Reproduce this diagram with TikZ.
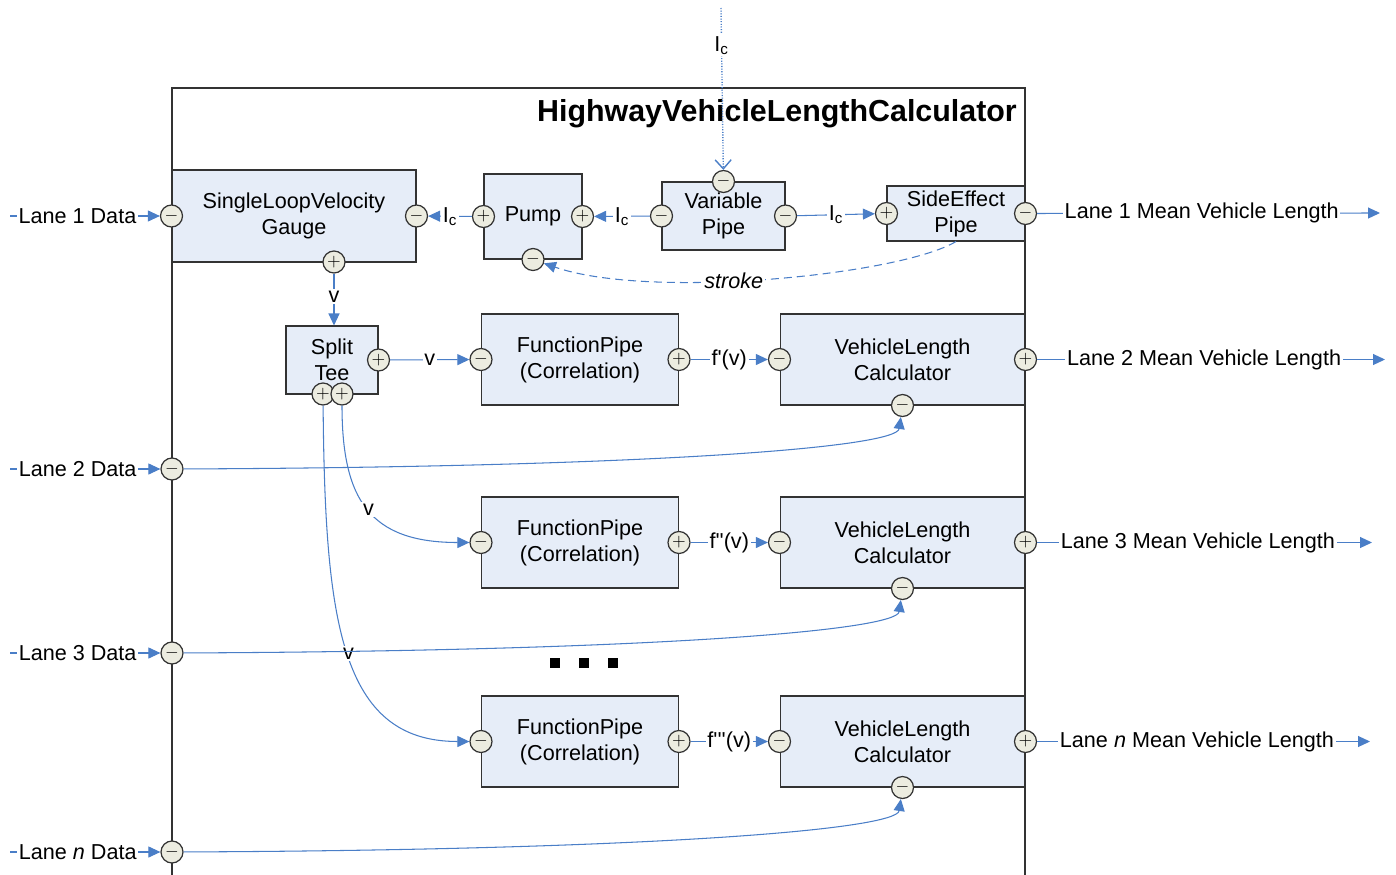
\documentclass[tikz,border=0pt]{standalone}
\usepackage{fontspec}
\setmainfont{Liberation Sans}
\usetikzlibrary{arrows.meta}
\definecolor{boxfill}{HTML}{E6EDF8}
\definecolor{portfill}{HTML}{ECECE0}
\definecolor{boxline}{HTML}{333333}
\definecolor{wireblue}{HTML}{4A7EC7}
\newcommand{\txtsize}{\fontsize{12.3}{14.8}\selectfont}

\begin{document}
\begin{tikzpicture}[x=0.02cm,y=-0.02cm,
  blk/.style={draw=boxline,fill=boxfill,line width=.6pt,inner sep=0pt,align=center,font=\txtsize},
  port/.style={circle,draw=boxline,fill=portfill,line width=.7pt,minimum size=.44cm,inner sep=0pt,font=\fontsize{10}{10}\selectfont},
  wire/.style={draw=wireblue,line width=.6pt,-{Triangle[length=2.4mm,width=2.2mm]}},
  lbl/.style={fill=white,inner sep=1pt,font=\txtsize,text=black}]
\useasboundingbox (0,0) rectangle (1396,875);
% outer block
\draw[boxline,line width=.6pt] (172,875) -- (172,88) -- (1025,88) -- (1025,875);
\node[font=\bfseries\fontsize{17.3}{20}\selectfont,anchor=east] (title) at (1023,114) {HighwayVehicleLengthCalculator};

% blocks
\node[blk,minimum width=4.88cm,minimum height=1.84cm] (gauge) at (294,216) {SingleLoopVelocity\\Gauge};
\node[blk,minimum width=1.96cm,minimum height=1.70cm] (pump) at (533,216.5) {Pump};
\node[blk,minimum width=2.46cm,minimum height=1.36cm] (varpipe) at (723.5,216) {Variable\\Pipe};
\node[blk,minimum width=2.76cm,minimum height=1.10cm] (sidepipe) at (956,213.5) {SideEffect\\Pipe};
\node[blk,minimum width=1.84cm,minimum height=1.36cm] (tee) at (332,360) {Split\\Tee};

% ports
\node[port] (gauge-l) at (gauge.west) {$-$};
\node[port] (gauge-r) at (gauge.east) {$-$};
\node[port] (gauge-b) at (334,262) {$+$};
\node[port] (pump-l) at (pump.west) {$+$};
\node[port] (pump-r) at (pump.east) {$+$};
\node[port] (pump-b) at (pump.south) {$-$};
\node[port] (varpipe-l) at (varpipe.west) {$-$};
\node[port] (varpipe-r) at (varpipe.east) {$-$};
\node[port] (varpipe-t) at (varpipe.north) {$-$};
\node[port] (sidepipe-l) at (sidepipe.west) {$+$};
\node[port] (sidepipe-r) at (sidepipe.east) {$-$};
\node[port] (tee-r) at (tee.east) {$+$};
\node[port] (tee-b1) at (323,394) {$+$};
\node[port] (tee-b2) at (342,394) {$+$};

% function pipes and calculators
\foreach \n/\y/\p in {1/359.5/\textquotesingle,2/542.5/\textquotesingle\textquotesingle,3/741.5/\textquotesingle\textquotesingle\textquotesingle} {
  \node[blk,minimum width=3.94cm,minimum height=1.82cm] (func\n) at (580,\y) {FunctionPipe\\(Correlation)};
  \node[blk,minimum width=4.90cm,minimum height=1.82cm] (calc\n) at (902.5,\y) {VehicleLength\\Calculator};
  \node[port] (func\n-l) at (func\n.west) {$-$};
  \node[port] (func\n-r) at (func\n.east) {$+$};
  \node[port] (calc\n-l) at (calc\n.west) {$-$};
  \node[port] (calc\n-r) at (calc\n.east) {$+$};
  \node[port] (calc\n-b) at (calc\n.south) {$-$};
  \draw[wire] (func\n-r) -- node[lbl]{f\p(v)} (calc\n-l);
}

% Ic chain
\coordinate (lcin) at (721,8);
\draw[wireblue,line width=.8pt,dash pattern=on .6pt off .9pt,-{Straight Barb[length=1.8mm,width=3.2mm]}] (lcin) -- node[lbl,pos=.23]{I\textsubscript{c}} (varpipe-t);
\draw[wire] (varpipe-l) -- node[lbl]{I\textsubscript{c}} (pump-r);
\draw[wire] (pump-l) -- node[lbl]{I\textsubscript{c}} (gauge-r);
\draw[wire] (varpipe-r) -- node[lbl]{I\textsubscript{c}} (sidepipe-l);
\draw[wire,dash pattern=on 1.6mm off 1mm] (sidepipe.south) .. controls (900,275) and (650,300) .. node[lbl,pos=.57,font=\txtsize\itshape]{stroke} (pump-b);

% velocity
\draw[wire] (gauge-b) -- node[lbl,pos=.45]{v} (gauge-b |- tee.north);
\draw[wire] (tee-r) -- node[lbl]{v} (func1-l);
\draw[wire] (tee-b2) .. controls (342,500) and (370,542.5) .. node[lbl,pos=.5]{v} (func2-l);
\draw[wire] (tee-b1) .. controls (325,620) and (340,741.5) .. node[lbl,pos=.5]{v} (func3-l);

% lane inputs
\coordinate (in1) at (10,216);
\draw[wire] (in1) -- node[lbl,pos=.45]{Lane 1 Data} (gauge-l);
\foreach \y/\k/\lane/\dst in {469/2/2/calc1,653/3/3/calc2,852/n/\textit{n}/calc3} {
  \coordinate (in\k) at (10,\y);
  \node[port] (data\k) at (172,\y) {$-$};
  \draw[wire] (in\k) -- node[lbl,pos=.45]{Lane \lane\ Data} (data\k);
  \draw[wire] (data\k) .. controls +(480,-2) and +(-6,42) .. (\dst-b);
}

% lane outputs
\foreach \src/\y/\k/\lane/\xe in {sidepipe-r/213/1/1/1380,calc1-r/359.5/2/2/1385,calc2-r/542.5/3/3/1372,calc3-r/741.5/n/\textit{n}/1370} {
  \coordinate (out\k) at (\xe,\y);
  \draw[wire] (\src) -- node[lbl,pos=.48]{Lane \lane\ Mean Vehicle Length} (out\k);
}

% more lanes
\foreach \x in {555,584,613}
  \fill (\x-5,658) rectangle +(10,10);
\end{tikzpicture}
\end{document}
